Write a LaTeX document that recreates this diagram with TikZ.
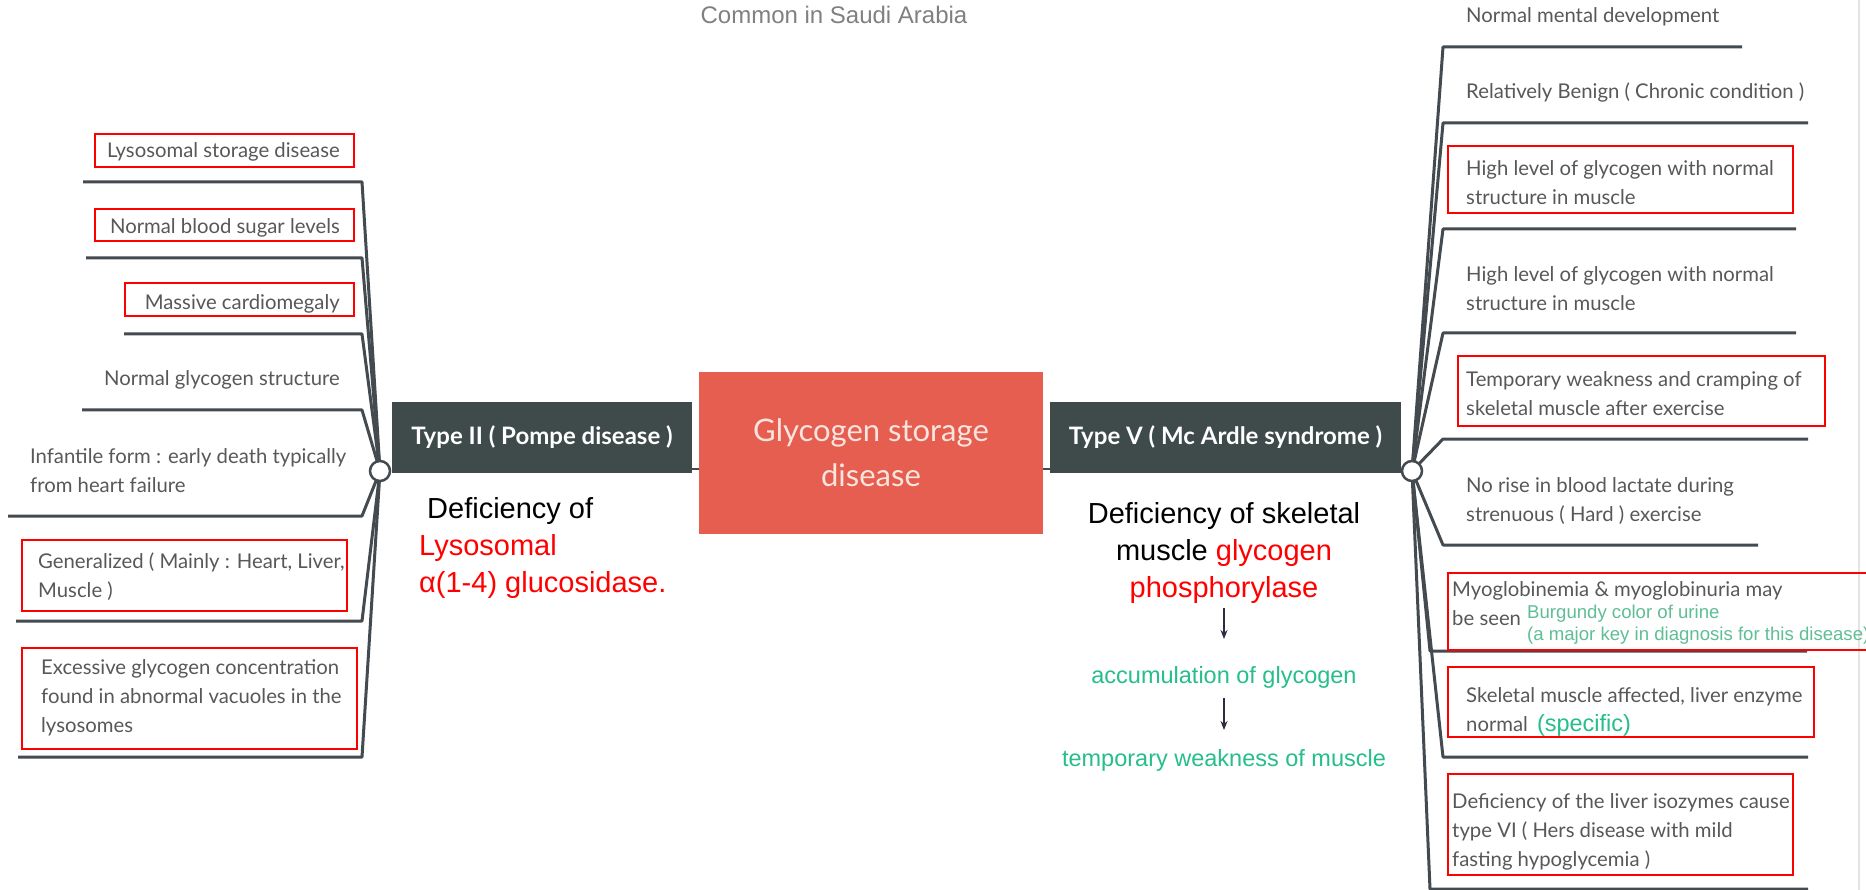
\documentclass[tikz,border=0pt]{standalone}
\usepackage{fontspec}
\setmainfont{Lato}
\newfontfamily\arial{Liberation Sans}
\usetikzlibrary{arrows.meta}
\definecolor{boxdark}{RGB}{62,75,74}
\definecolor{branchcol}{RGB}{68,75,80}
\definecolor{coral}{RGB}{229,94,80}
\definecolor{coraltext}{RGB}{250,228,222}
\definecolor{topicgray}{RGB}{88,88,88}
\definecolor{myred}{RGB}{255,0,0}
\definecolor{greenA}{RGB}{38,190,140}
\definecolor{greenB}{RGB}{95,190,150}
\definecolor{titlegray}{RGB}{128,128,128}
\definecolor{arrowcol}{RGB}{45,45,65}
\definecolor{edgegray}{RGB}{228,228,228}
\begin{document}
\begin{tikzpicture}[x=1pt,y=-1pt,
  topic/.style={font=\fontsize{20.3}{29}\selectfont, text=topicgray, inner sep=0pt, align=left},
  redbox/.style={draw=myred, line width=2pt},
  branch/.style={draw=branchcol, line width=3pt, line join=round},
  hub/.style={circle, draw=branchcol, fill=white, line width=2.5pt, minimum size=20pt, inner sep=0pt},
  typebox/.style={fill=boxdark, text=white, font=\bfseries\fontsize{24}{28}\selectfont, minimum height=71pt, inner sep=0pt},
  centerbox/.style={fill=coral, text=coraltext, font=\fontsize{31}{45}\selectfont, align=center, minimum width=344pt, minimum height=162pt, inner sep=0pt},
  note/.style={font=\arial\fontsize{29}{37}\selectfont, text=black, inner sep=0pt},
  greennote/.style={font=\arial\fontsize{23.5}{28}\selectfont, text=greenA, inner sep=0pt},
  flow/.style={draw=arrowcol, line width=1.5pt, -{Stealth[length=9pt,width=7pt]}},
  conn/.style={draw=branchcol, line width=2pt}
]
\useasboundingbox (0,0) rectangle (1866,890);
\fill[white] (0,0) rectangle (1866,890);
\draw[edgegray, line width=1.5pt] (1859,0) -- (1859,890);

% title
\node[font=\arial\fontsize{24}{28}\selectfont, text=titlegray, inner sep=0pt, anchor=mid] (title) at (834,21) {Common in Saudi Arabia};

% central topic and main branches
\node[centerbox] (gsd) at (871,453) {Glycogen storage\\disease};
\node[typebox, minimum width=300pt] (t2) at (542,437.5) {Type II ( Pompe disease )};
\node[typebox, minimum width=351pt] (t5) at (1225.5,437.5) {Type V ( Mc Ardle syndrome )};
\coordinate (j2) at (692,469);
\coordinate (j5) at (1050,469);
\draw[conn] (j2) -- (gsd.west |- j2);
\draw[conn] (gsd.east |- j5) -- (j5);

% left branches
\coordinate (hLc) at (380,471);
\foreach \i/\y/\xl in {1/182/83, 2/258/86, 3/334/124, 4/410/82, 5/516/8, 6/621/16, 7/757/18}{
  \coordinate (lk\i) at (362,\y);
  \coordinate (le\i) at (\xl,\y);
  \draw[branch] (hLc) -- (lk\i) -- (le\i);
}
\node[hub] (hL) at (hLc) {};

% right branches
\coordinate (hRc) at (1412,471);
\foreach \i/\xc/\y/\xr in {1/1443/47/1742, 2/1443/123/1808, 3/1443/229/1796, 4/1443/333/1796, 5/1443/439/1808, 6/1443/545/1758, 7/1430/651/1807, 8/1443/757/1808, 9/1430/889/1808}{
  \coordinate (rk\i) at (\xc,\y);
  \coordinate (re\i) at (\xr,\y);
  \draw[branch] (hRc) -- (rk\i) -- (re\i);
}
\node[hub] (hR) at (hRc) {};

% left topics
\node[topic, anchor=mid east] (l1) at (340,155) {Lysosomal storage disease};
\node[topic, anchor=mid east] (l2) at (340,231) {Normal blood sugar levels};
\node[topic, anchor=mid east] (l3) at (340,307) {Massive cardiomegaly};
\node[topic, anchor=mid east] (l4) at (340,383) {Normal glycogen structure};
\node[topic, anchor=north west] (l5) at (30,448) {Infantile form : early death typically\\from heart failure};
\node[topic, anchor=north west] (l6) at (38,553) {Generalized ( Mainly : Heart, Liver,\\Muscle )};
\node[topic, anchor=north west] (l7) at (41,659) {Excessive glycogen concentration\\found in abnormal vacuoles in the\\lysosomes};

\draw[redbox] (95,134) rectangle (354,167);
\draw[redbox] (95,209) rectangle (354,241);
\draw[redbox] (125,283) rectangle (354,316);
\draw[redbox] (22,540) rectangle (347,611);
\draw[redbox] (22,648) rectangle (357,749);

% right topics
\node[topic, anchor=mid west] (r1) at (1466,20) {Normal mental development};
\node[topic, anchor=mid west] (r2) at (1466,96) {Relatively Benign ( Chronic condition )};
\node[topic, anchor=north west] (r3) at (1466,160) {High level of glycogen with normal\\structure in muscle};
\node[topic, anchor=north west] (r4) at (1466,266) {High level of glycogen with normal\\structure in muscle};
\node[topic, anchor=north west] (r5) at (1466,371) {Temporary weakness and cramping of\\skeletal muscle after exercise};
\node[topic, anchor=north west] (r6) at (1466,477) {No rise in blood lactate during\\strenuous ( Hard ) exercise};
\node[topic, anchor=north west] (r7) at (1452,581) {Myoglobinemia \& myoglobinuria may\\be seen};
\node[font=\arial\fontsize{18.6}{22}\selectfont, text=greenB, inner sep=0pt, align=left, anchor=north west] (r7g) at (1527,605) {Burgundy color of urine\\(a major key in diagnosis for this disease)};
\node[topic, anchor=north west] (r8) at (1466,687) {Skeletal muscle affected, liver enzyme\\normal\hspace{9pt}{\arial\fontsize{23.5}{29}\selectfont\color{greenA}(specific)}};
\node[topic, anchor=north west] (r9) at (1452,793) {Deficiency of the liver isozymes cause\\type VI ( Hers disease with mild\\fasting hypoglycemia )};

\draw[redbox] (1448,146) rectangle (1793,213);
\draw[redbox] (1458,356) rectangle (1825,426);
\draw[redbox] (1448,573) rectangle (1880,650);
\draw[redbox] (1448,667) rectangle (1814,737);
\draw[redbox] (1448,774) rectangle (1793,875);

% notes
\node[note, align=left, anchor=north west] (defL) at (419,497) {\hspace*{8pt}Deficiency of\\\textcolor{myred}{Lysosomal}\\\textcolor{myred}{α(1-4) glucosidase.}};
\node[note, align=center, anchor=north] (defR) at (1224,502) {Deficiency of skeletal\\muscle \textcolor{myred}{glycogen}\\\textcolor{myred}{phosphorylase}};
\node[greennote, anchor=mid] (acc) at (1224,681) {accumulation of glycogen};
\node[greennote, anchor=mid] (weak) at (1224,764) {temporary weakness of muscle};
\coordinate (a1s) at (1224,608);
\coordinate (a1e) at (1224,639);
\coordinate (a2s) at (1224,698);
\coordinate (a2e) at (1224,730);
\draw[flow] (defR.south |- a1s) -- (acc.north |- a1e);
\draw[flow] (acc.south |- a2s) -- (weak.north |- a2e);
\end{tikzpicture}
\end{document}
